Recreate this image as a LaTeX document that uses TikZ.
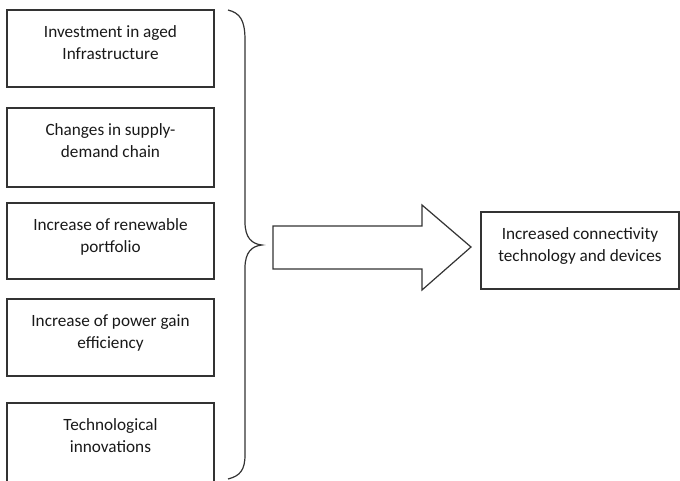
\documentclass[tikz,border=0pt]{standalone}
\usepackage{fontspec}
\setmainfont{Carlito}
\begin{document}
\begin{tikzpicture}[x=1pt,y=-1pt,
  boxline/.style={draw=black!80, line width=1.3pt},
  lbl/.style={anchor=north, align=center, font=\fontsize{17.2}{22.5}\selectfont, text=black!90, inner sep=0pt}]
\useasboundingbox (0,0) rectangle (680,480);
\draw[boxline] (7,10) rectangle (214,87);
\draw[boxline] (7,108) rectangle (214,187);
\draw[boxline] (7,203) rectangle (214,279);
\draw[boxline] (7,299) rectangle (214,376);
\draw[boxline] (7,403) rectangle (214,482);
\node[lbl] (t1) at (110.5,25) {Investment in aged\\Infrastructure};
\node[lbl] (t2) at (110.5,123) {Changes in supply-\\demand chain};
\node[lbl] (t3) at (110.5,218) {Increase of renewable\\portfolio};
\node[lbl] (t4) at (110.5,314) {Increase of power gain\\efficiency};
\node[lbl] (t5) at (110.5,418) {Technological\\innovations};
% brace
\draw[boxline, line width=1.2pt] (228,10) .. controls (240,13) and (245,20) .. (245,40)
  -- (245,222) .. controls (245,238) and (252,244) .. (262,245)
  .. controls (252,246) and (245,252) .. (245,268)
  -- (245,455) .. controls (245,470) and (240,476) .. (228,479);
% arrow
\draw[boxline, line width=1.2pt] (273,226) -- (422,226) -- (422,205) -- (471,247) -- (422,290) -- (422,269) -- (273,269) -- cycle;
% result box
\draw[boxline] (481,212) rectangle (679,289);
\node[lbl] (r) at (580,227) {Increased connectivity\\technology and devices};
\end{tikzpicture}
\end{document}
